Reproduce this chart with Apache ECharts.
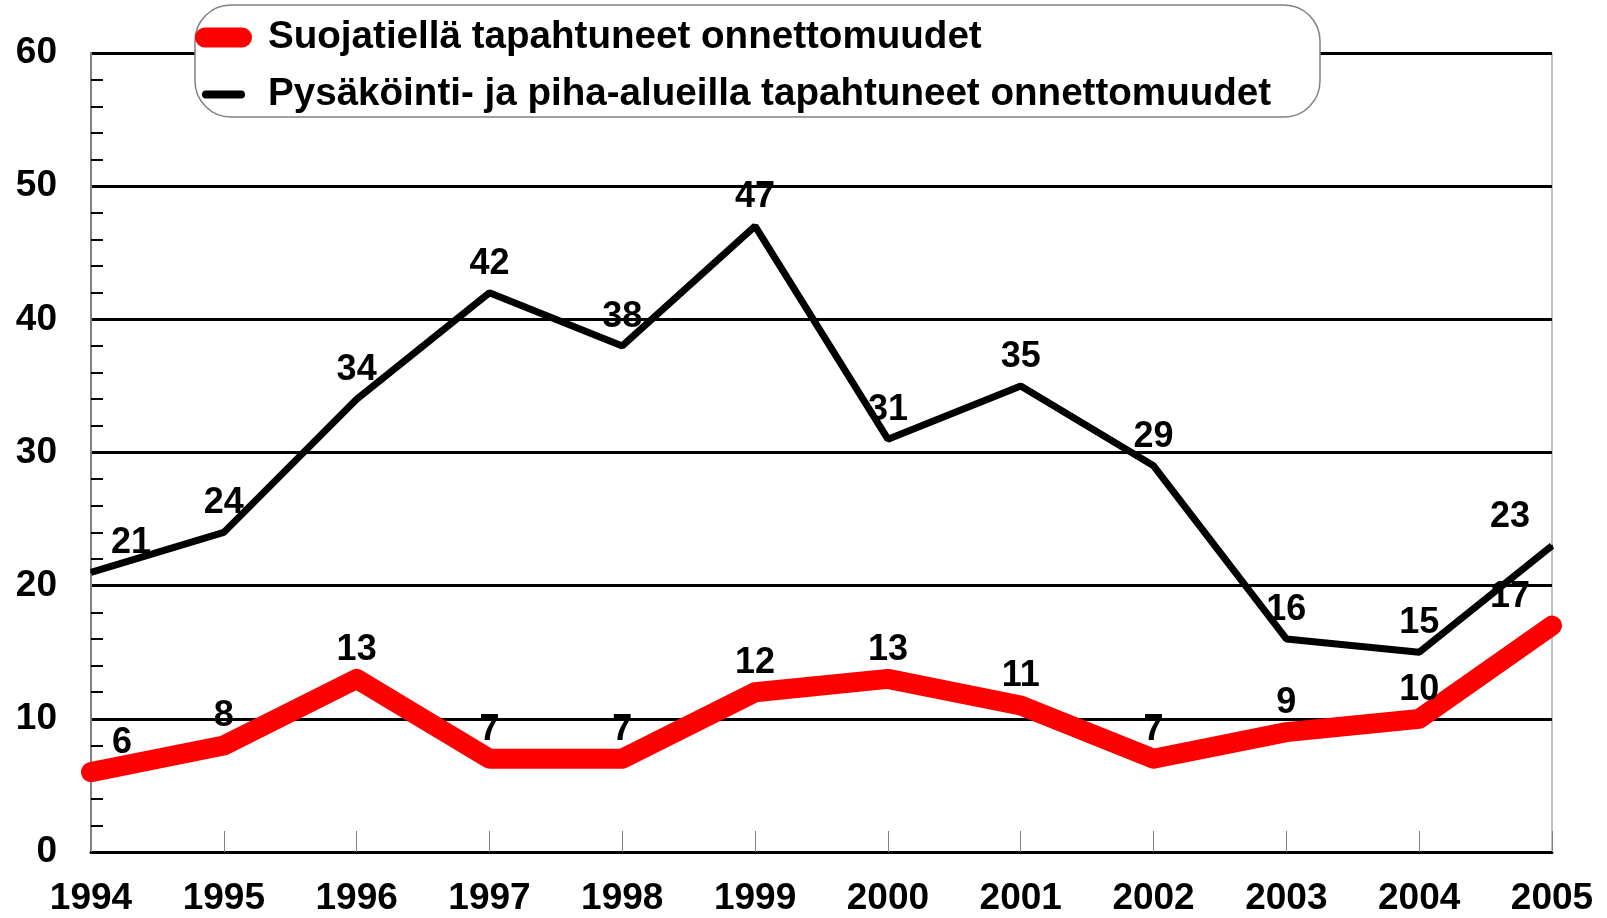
<!DOCTYPE html>
<html>
<head>
<meta charset="utf-8">
<script src="https://cdn.jsdelivr.net/npm/echarts@6/dist/echarts.min.js"></script>
<style>
  html, body { margin: 0; padding: 0; background: #fff; }
  #main { width: 1607px; height: 918px; }
</style>
</head>
<body>
<div id="main"></div>
<script>
// data
const years = ['1994', '1995', '1996', '1997', '1998', '1999', '2000', '2001', '2002', '2003', '2004', '2005'];
const suojatie = [6, 8, 13, 7, 7, 12, 13, 11, 7, 9, 10, 17];
const piha = [21, 24, 34, 42, 38, 47, 31, 35, 29, 16, 15, 23];
const nameSuojatie = 'Suojatiellä tapahtuneet onnettomuudet';
const namePiha = 'Pysäköinti- ja piha-alueilla tapahtuneet onnettomuudet';

const font = "'Liberation Sans', Arial, sans-serif";

// labels sit above the point, first and last pushed inward
function withLabels (values, firstShift) {
  return values.map(function (v, i) {
    let dx = 0;
    if (i === 0) dx = firstShift;
    if (i === values.length - 1) dx = -42;
    return { value: v, label: { offset: [dx, -29] } };
  });
}

const chart = echarts.init(document.getElementById('main'));
chart.setOption({
  animation: false,
  grid: {
    left: 91, right: 55, top: 53, bottom: 66,
    outerBoundsMode: 'none',
    show: true, borderColor: '#808080', borderWidth: 1
  },
  graphic: [{
    type: 'rect',
    z: 3,
    shape: { x: 195, y: 5, width: 1125, height: 112, r: 36 },
    style: { fill: '#fff', stroke: '#808080', lineWidth: 1.5 }
  }],
  legend: [{
    z: 4,
    left: 195, top: 18, padding: 0,
    data: [nameSuojatie],
    icon: 'path://M10,0 H47 A10,10 0 0 1 47,20 H10 A10,10 0 0 1 10,0 Z',
    itemWidth: 57, itemHeight: 21,
    itemStyle: { color: '#ff0000' },
    textStyle: { fontFamily: font, fontWeight: 'bold', fontSize: 38.6, color: '#000', padding: [0, 0, 0, 11] }
  }, {
    z: 4,
    left: 202, top: 75, padding: 0,
    data: [namePiha],
    icon: 'path://M4,0 H39 A4,4 0 0 1 39,8 H4 A4,4 0 0 1 4,0 Z',
    itemWidth: 43, itemHeight: 8,
    itemStyle: { color: '#000' },
    textStyle: { fontFamily: font, fontWeight: 'bold', fontSize: 38.6, color: '#000', padding: [0, 0, 0, 18] }
  }],
  xAxis: {
    type: 'category',
    data: years,
    boundaryGap: false,
    axisLine: { lineStyle: { color: '#000', width: 3 } },
    axisTick: { inside: true, length: 21, lineStyle: { color: '#808080', width: 1 } },
    axisLabel: { fontFamily: font, fontWeight: 'bold', fontSize: 37, color: '#000', margin: 28 }
  },
  yAxis: {
    type: 'value',
    min: 0, max: 60, interval: 10,
    axisLine: { show: true, lineStyle: { color: '#808080', width: 2 } },
    axisTick: { show: false, inside: true },
    minorTick: { show: true, splitNumber: 5, length: 12, lineStyle: { color: '#000', width: 2 } },
    splitLine: { lineStyle: { color: '#000', width: 3 } },
    axisLabel: { fontFamily: font, fontWeight: 'bold', fontSize: 37, color: '#000', margin: 34 }
  },
  series: [{
    name: namePiha,
    type: 'line',
    data: withLabels(piha, 40),
    symbol: 'circle', symbolSize: 2,
    itemStyle: { color: '#000' },
    lineStyle: { color: '#000', width: 7 },
    label: { show: true, position: 'inside', fontFamily: font, fontWeight: 'bold', fontSize: 36, color: '#000' },
    emphasis: { disabled: true },
    z: 2
  }, {
    name: nameSuojatie,
    type: 'line',
    data: withLabels(suojatie, 31),
    symbol: 'circle', symbolSize: 2,
    itemStyle: { color: '#ff0000' },
    lineStyle: { color: '#ff0000', width: 20, cap: 'round', join: 'round' },
    label: { show: true, position: 'inside', fontFamily: font, fontWeight: 'bold', fontSize: 36, color: '#000' },
    emphasis: { disabled: true },
    z: 3
  }]
});
</script>
</body>
</html>
